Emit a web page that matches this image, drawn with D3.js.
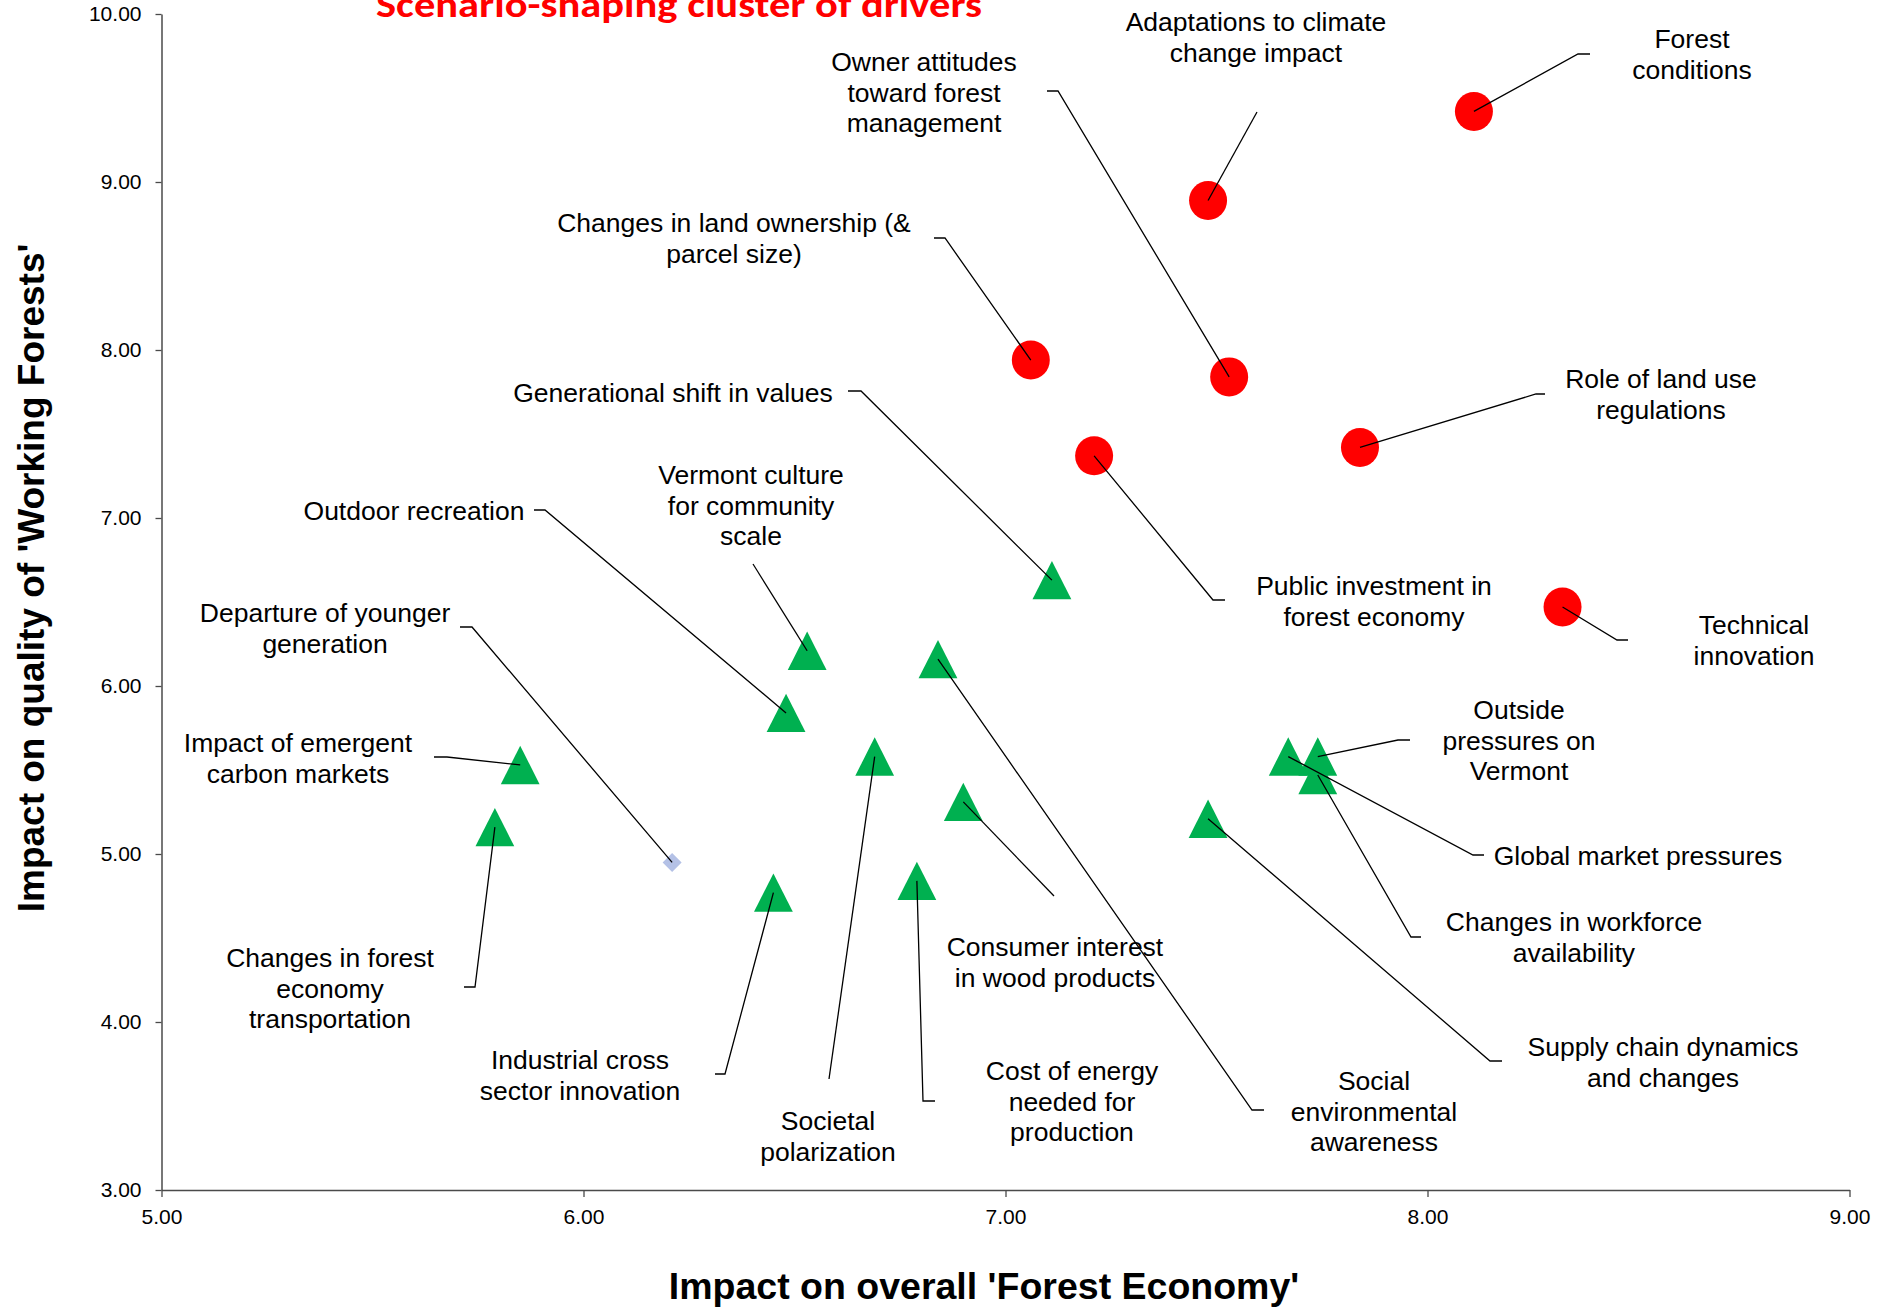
<!DOCTYPE html>
<html>
<head>
<meta charset="utf-8">
<script src="https://cdn.jsdelivr.net/npm/d3@7"></script>
<style>
  html, body { margin: 0; padding: 0; background: #ffffff; }
  svg { display: block; }
</style>
</head>
<body>
<svg id="chart" width="1882" height="1308"></svg>
<script>
// ---------------- DATA ----------------
const driverNames = [
  "Forest conditions",
  "Adaptations to climate change impact",
  "Changes in land ownership (& parcel size)",
  "Owner attitudes toward forest management",
  "Role of land use regulations",
  "Public investment in forest economy",
  "Technical innovation",
  "Generational shift in values",
  "Vermont culture for community scale",
  "Social environmental awareness",
  "Outdoor recreation",
  "Impact of emergent carbon markets",
  "Societal polarization",
  "Consumer interest in wood products",
  "Changes in forest economy transportation",
  "Global market pressures",
  "Outside pressures on Vermont",
  "Changes in workforce availability",
  "Supply chain dynamics and changes",
  "Industrial cross sector innovation",
  "Cost of energy needed for production",
  "Departure of younger generation"
];
// Impact on overall 'Forest Economy'
const forestEconomy = [8.11, 7.48, 7.06, 7.53, 7.84, 7.21, 8.32, 7.11, 6.53, 6.84, 6.48, 5.85, 6.69, 6.90, 5.79, 7.67, 7.74, 7.74, 7.48, 6.45, 6.79, 6.21];
// Impact on quality of 'Working Forests'
const workingForests = [9.42, 8.89, 7.94, 7.84, 7.42, 7.37, 6.47, 6.63, 6.21, 6.16, 5.84, 5.53, 5.58, 5.31, 5.16, 5.58, 5.58, 5.47, 5.21, 4.77, 4.84, 4.95];
// cluster: scenario-shaping (red), other drivers (green), single (blue)
const driverGroup = ["scenario","scenario","scenario","scenario","scenario","scenario","scenario",
  "other","other","other","other","other","other","other","other","other","other","other","other","other","other",
  "single"];
// label text lines
const labelLines = [
  ["Forest", "conditions"],
  ["Adaptations to climate", "change impact"],
  ["Changes in land ownership (&", "parcel size)"],
  ["Owner attitudes", "toward forest", "management"],
  ["Role of land use", "regulations"],
  ["Public investment in", "forest economy"],
  ["Technical", "innovation"],
  ["Generational shift in values"],
  ["Vermont culture", "for community", "scale"],
  ["Social", "environmental", "awareness"],
  ["Outdoor recreation"],
  ["Impact of emergent", "carbon markets"],
  ["Societal", "polarization"],
  ["Consumer interest", "in wood products"],
  ["Changes in forest", "economy", "transportation"],
  ["Global market pressures"],
  ["Outside", "pressures on", "Vermont"],
  ["Changes in workforce", "availability"],
  ["Supply chain dynamics", "and changes"],
  ["Industrial cross", "sector innovation"],
  ["Cost of energy", "needed for", "production"],
  ["Departure of younger", "generation"]
];
const xTicks = [5, 6, 7, 8, 9];
const yTicks = [3, 4, 5, 6, 7, 8, 9, 10];
const chartTitle = "Scenario-shaping cluster of drivers";
const xTitle = "Impact on overall 'Forest Economy'";
const yTitle = "Impact on quality of 'Working Forests'";

// ---------------- LAYOUT (annotation placement, pixels) ----------------
// label block centre [cx, cy], leader elbow points (from marker outward)
const labelLayout = [
  {c:[1692, 54],  leader:[[1578, 54],[1590, 54]]},
  {c:[1256, 37],  leader:[[1257, 112]]},
  {c:[734, 238],  leader:[[945, 238],[934, 238]]},
  {c:[924, 92],   leader:[[1058, 91],[1047, 91]]},
  {c:[1661, 394], leader:[[1536, 394],[1545, 394]]},
  {c:[1374, 601], leader:[[1213, 600],[1225, 600]]},
  {c:[1754, 640], leader:[[1617, 640],[1628, 640]]},
  {c:[673, 392],  leader:[[861, 391],[848, 391]]},
  {c:[751, 505],  leader:[[753, 564]]},
  {c:[1374, 1111],leader:[[1252, 1110],[1264, 1110]]},
  {c:[414, 510],  leader:[[545, 510],[534, 510]]},
  {c:[298, 758],  leader:[[447, 757],[434, 757]]},
  {c:[828, 1136], leader:[[829, 1079]]},
  {c:[1055, 962], leader:[[1054, 896]]},
  {c:[330, 988],  leader:[[475, 987],[464, 987]]},
  {c:[1638, 855], leader:[[1473, 855],[1484, 855]]},
  {c:[1519, 740], leader:[[1398, 740],[1410, 740]]},
  {c:[1574, 937], leader:[[1411, 937],[1421, 937]]},
  {c:[1663, 1062],leader:[[1490, 1061],[1502, 1061]]},
  {c:[580, 1075], leader:[[725, 1074],[715, 1074]]},
  {c:[1072, 1101],leader:[[923, 1101],[935, 1101]]},
  {c:[325, 628],  leader:[[472, 627],[460, 627]]}
];

// ---------------- DRAW ----------------
const svg = d3.select("#chart");
const FONT = "'Liberation Sans', Arial, Helvetica, sans-serif";
const plot = {left: 161.5, right: 1849.5, top: 14, bottom: 1190};

const x = d3.scaleLinear().domain([5, 9]).range([plot.left, plot.right]);
const y = d3.scaleLinear().domain([3, 10]).range([plot.bottom, plot.top]);

const colors = {scenario: "#ff0000", other: "#00b050", single: "#b4c1e6"};

const data = driverNames.map((n, i) => ({
  name: n, xv: forestEconomy[i], yv: workingForests[i], g: driverGroup[i],
  lines: labelLines[i], layout: labelLayout[i]
}));

// axes
const yAxis = svg.append("g")
  .attr("transform", `translate(${plot.left},0)`)
  .call(d3.axisLeft(y).tickValues(yTicks).tickFormat(d3.format(".2f")).tickSize(6).tickPadding(14).tickSizeOuter(0));
const xAxis = svg.append("g")
  .attr("transform", `translate(0,${plot.bottom})`)
  .call(d3.axisBottom(x).tickValues(xTicks).tickFormat(d3.format(".2f")).tickSize(7).tickPadding(12).tickSizeOuter(0));
[yAxis, xAxis].forEach(a => {
  a.select(".domain").attr("stroke", "#4a4a4a").attr("stroke-width", 1.5);
  a.selectAll(".tick line").attr("stroke", "#4a4a4a").attr("stroke-width", 1.3);
  a.selectAll(".tick text").attr("font-family", FONT).attr("font-size", 21).attr("fill", "#000");
});

// markers
const mk = svg.append("g");
data.forEach(d => {
  const cx = x(d.xv), cy = y(d.yv);
  if (d.g === "scenario") {
    mk.append("ellipse").attr("cx", cx).attr("cy", cy).attr("rx", 19).attr("ry", 19.5)
      .attr("fill", colors.scenario);
  } else if (d.g === "other") {
    mk.append("path")
      .attr("d", `M${cx},${cy - 19.2} L${cx + 19.4},${cy + 19.2} L${cx - 19.4},${cy + 19.2} Z`)
      .attr("fill", colors.other);
  } else {
    mk.append("path")
      .attr("d", `M${cx},${cy - 9.5} L${cx + 9.5},${cy} L${cx},${cy + 9.5} L${cx - 9.5},${cy} Z`)
      .attr("fill", colors.single);
  }
});

// leader lines
const line = d3.line();
const ll = svg.append("g");
data.forEach(d => {
  const pts = [[x(d.xv), y(d.yv)], ...d.layout.leader];
  ll.append("path").attr("d", line(pts)).attr("fill", "none")
    .attr("stroke", "#000").attr("stroke-width", 1.3);
});

// labels
const LF = 26.5, LH = 30.6;
const lg = svg.append("g");
data.forEach(d => {
  const n = d.lines.length;
  const t = lg.append("text").attr("font-family", FONT).attr("font-size", LF)
    .attr("text-anchor", "middle").attr("fill", "#000");
  d.lines.forEach((s, k) => {
    t.append("tspan").attr("x", d.layout.c[0])
      .attr("y", d.layout.c[1] + (k - (n - 1) / 2) * LH + LF * 0.36)
      .text(s);
  });
});

// titles
svg.append("text").attr("x", 679).attr("y", 17)
  .attr("font-family", "Carlito, Lato, 'Open Sans', sans-serif").attr("font-weight", 700)
  .attr("font-size", 36).attr("fill", "#ff0000").attr("text-anchor", "middle")
  .attr("textLength", 606).attr("lengthAdjust", "spacingAndGlyphs")
  .text(chartTitle);

svg.append("text").attr("x", 984).attr("y", 1299)
  .attr("font-family", FONT).attr("font-weight", 700).attr("font-size", 37.5)
  .attr("text-anchor", "middle").attr("fill", "#000").text(xTitle);

svg.append("text").attr("transform", "translate(44,578) rotate(-90)")
  .attr("font-family", FONT).attr("font-weight", 700).attr("font-size", 37)
  .attr("text-anchor", "middle").attr("fill", "#000").text(yTitle);
</script>
</body>
</html>
